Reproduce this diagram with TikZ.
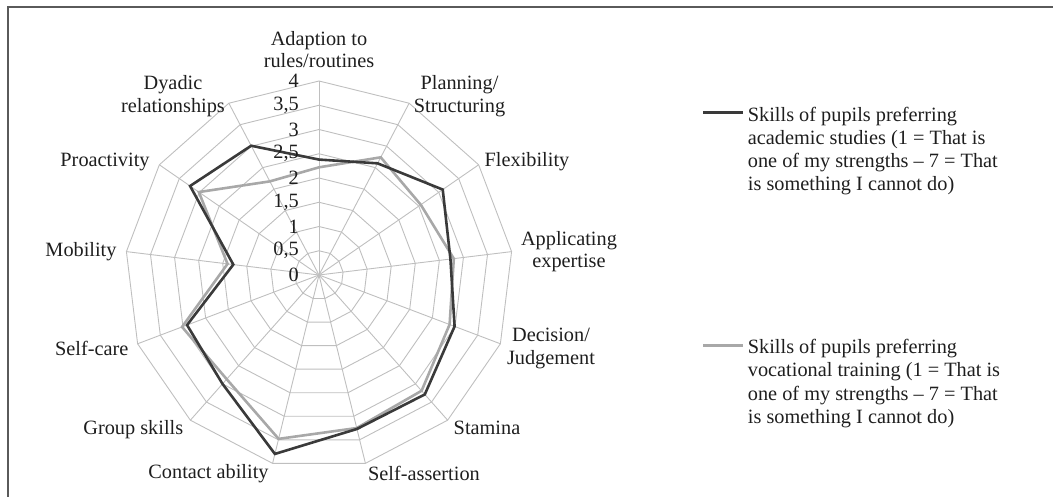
\documentclass[tikz,border=0pt]{standalone}
\usepackage{fontspec}
\setmainfont{Liberation Serif}
\definecolor{gridc}{HTML}{BFBFBF}
\definecolor{darkc}{HTML}{3A3A3A}
\definecolor{grayc}{HTML}{A8A8A8}
\definecolor{framec}{HTML}{5A5A5A}
\definecolor{textc}{HTML}{1E1E1E}
\tikzset{
  gridline/.style={draw=gridc, line width=0.9pt},
  darkseries/.style={draw=darkc, line width=2.6pt, line join=miter},
  grayseries/.style={draw=grayc, line width=2.6pt, line join=miter},
  framestyle/.style={draw=framec, line width=2pt},
  lbl/.style={inner sep=0pt, text=textc, align=center, font=\fontsize{20.3}{22.8}\selectfont},
  scalelbl/.style={inner sep=0pt, text=textc, anchor=east, font=\fontsize{20.3}{22.8}\selectfont},
  legtext/.style={inner sep=0pt, text=textc, align=left, anchor=north west, font=\fontsize{20.3}{23.1}\selectfont},
}
\begin{document}
\begin{tikzpicture}[x=1pt,y=1pt]
\useasboundingbox (0,0) rectangle (1053,497);
% frame (top and left edges)
\coordinate (fbl) at (7.5,0);
\coordinate (ftl) at (7.5,489.5);
\coordinate (ftr) at (1053,489.5);
\draw[framestyle] (fbl) -- (ftl) -- (ftr);
% radar grid
\begin{scope}[shift={(319,222)}]
\coordinate (ctr) at (0,0);
\foreach \k in {0,...,12} \draw[gridline] (ctr) -- ({90-\k*360/13}:194);
\foreach \r in {1,...,8}
  \draw[gridline] (90:{\r*24.25}) \foreach \k in {1,...,12} { -- ({90-\k*360/13}:{\r*24.25}) } -- cycle;
% series
\draw[grayseries] (90:{2.22*48.5})
  \foreach \k/\v in {1/2.74,2/2.55,3/2.80,4/2.88,5/3.19,6/3.25,7/3.48,8/2.87,9/3.02,10/1.90,11/3.01,12/2.18}
  { -- ({90-\k*360/13}:{\v*48.5}) } -- cycle;
\draw[darkseries] (90:{2.38*48.5})
  \foreach \k/\v in {1/2.60,2/3.10,3/2.73,4/2.99,5/3.29,6/3.27,7/3.80,8/3.00,9/2.91,10/1.78,11/3.23,12/3.01}
  { -- ({90-\k*360/13}:{\v*48.5}) } -- cycle;
\end{scope}
% scale labels
\node[scalelbl] (s0) at (299,222) {0};
\node[scalelbl] (s05) at (299,246.25) {0,5};
\node[scalelbl] (s1) at (299,270.5) {1};
\node[scalelbl] (s15) at (299,294.75) {1,5};
\node[scalelbl] (s2) at (299,319) {2};
\node[scalelbl] (s25) at (299,343.25) {2,5};
\node[scalelbl] (s3) at (299,367.5) {3};
\node[scalelbl] (s35) at (299,391.75) {3,5};
\node[scalelbl] (s4) at (299,416) {4};
% category labels
\node[lbl] (c0) at (319,447.5) {Adaption to\\rules/routines};
\node[lbl] (c1) at (459.5,400.5) {Planning/\\Structuring};
\node[lbl] (c2) at (527,335) {Flexibility};
\node[lbl] (c3) at (569,245.3) {Applicating\\expertise};
\node[lbl] (c4) at (551,148.3) {Decision/\\Judgement};
\node[lbl] (c5) at (487,68.7) {Stamina};
\node[lbl] (c6) at (424,24) {Self-assertion};
\node[lbl] (c7) at (208.5,23.7) {Contact ability};
\node[lbl] (c8) at (133.3,67.7) {Group skills};
\node[lbl] (c9) at (91.7,149) {Self-care};
\node[lbl] (c10) at (81,245.3) {Mobility};
\node[lbl] (c11) at (105,335) {Proactivity};
\node[lbl] (c12) at (173,400.5) {Dyadic\\relationships};
% legend
\coordinate (l1a) at (703,384.7);
\coordinate (l1b) at (743,384.7);
\draw[darkseries] (l1a) -- (l1b);
\node[legtext] (t1) at (747.7,390.2) {Skills of pupils preferring\\academic studies (1 = That is\\one of my strengths – 7 = That\\is something I cannot do)};
\coordinate (l2a) at (703,151.3);
\coordinate (l2b) at (743,151.3);
\draw[grayseries] (l2a) -- (l2b);
\node[legtext] (t2) at (747.7,157.6) {Skills of pupils preferring\\vocational training (1 = That is\\one of my strengths – 7 = That\\is something I cannot do)};
\end{tikzpicture}
\end{document}
